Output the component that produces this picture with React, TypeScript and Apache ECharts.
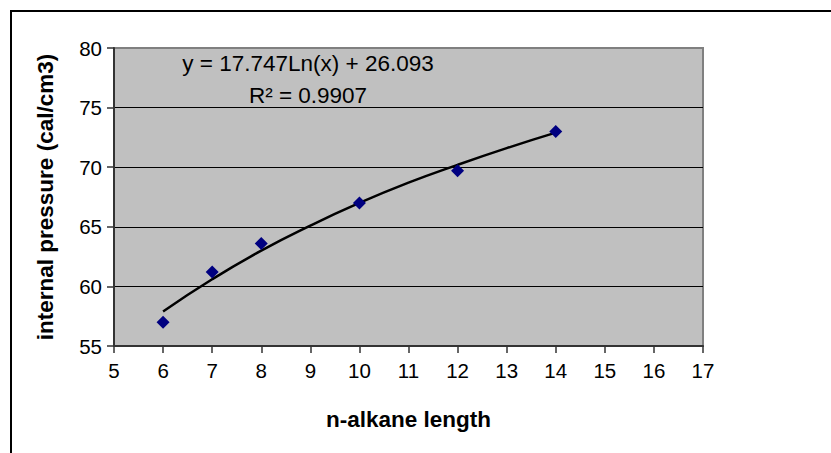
import React, { useEffect, useRef } from "react";
import * as echarts from "echarts";

const lengths = [6, 7, 8, 10, 12, 14];
const pressures = [57.0, 61.2, 63.6, 67.0, 69.7, 73.0];
const trendX = [6, 7, 8, 9, 10, 11, 12, 13, 14];
const trendY = [57.9, 60.6, 63.0, 65.1, 67.0, 68.7, 70.2, 71.6, 72.9];
const equationText = "y = 17.747Ln(x) + 26.093";
const r2Text = "R\u00b2 = 0.9907";
const xTitle = "n-alkane length";
const yTitle = "internal pressure (cal/cm3)";

const FONT = "'Liberation Sans', Arial, sans-serif";

export default function App() {
  const ref = useRef<HTMLDivElement>(null);
  useEffect(() => {
    if (!ref.current) return;
    const chart = echarts.init(ref.current, null, { renderer: "svg" });
    chart.setOption({
      animation: false,
      backgroundColor: "#ffffff",
      textStyle: { fontFamily: FONT },
      grid: {
        left: 114,
        top: 48,
        right: 128,
        bottom: 107,
        show: true,
        backgroundColor: "#c0c0c0",
        borderColor: "#808080",
        borderWidth: 2,
      },
      xAxis: {
        type: "value",
        min: 5,
        max: 17,
        interval: 1,
        name: xTitle,
        nameLocation: "middle",
        nameGap: 62,
        nameTextStyle: { fontFamily: FONT, fontSize: 22.5, fontWeight: "bold", color: "#000" },
        axisLine: { show: true, onZero: false, lineStyle: { color: "#333", width: 2 } },
        axisTick: { show: true, inside: false, length: 7, lineStyle: { color: "#333", width: 1.5 } },
        axisLabel: { fontFamily: FONT, fontSize: 20.5, color: "#000", margin: 14 },
        splitLine: { show: false },
      },
      yAxis: {
        type: "value",
        min: 55,
        max: 80,
        interval: 5,
        name: yTitle,
        nameLocation: "middle",
        nameGap: 57,
        nameTextStyle: { fontFamily: FONT, fontSize: 22.5, fontWeight: "bold", color: "#000" },
        axisLine: { show: true, onZero: false, lineStyle: { color: "#333", width: 2 } },
        axisTick: { show: true, inside: false, length: 7, lineStyle: { color: "#333", width: 1.5 } },
        axisLabel: { fontFamily: FONT, fontSize: 20.5, color: "#000", margin: 12 },
        splitLine: {
          show: true,
          lineStyle: { color: ["#000", "#000", "#000", "#000", "#000", "#808080"], width: 1 },
        },
      },
      series: [
        {
          type: "line",
          data: trendX.map((x, i) => [x, trendY[i]]),
          smooth: true,
          showSymbol: false,
          symbol: "none",
          lineStyle: { color: "#000", width: 2.5 },
          z: 2,
        },
        {
          type: "scatter",
          data: lengths.map((x, i) => [x, pressures[i]]),
          symbol: "diamond",
          symbolSize: 13,
          itemStyle: { color: "#000080", opacity: 1 },
          z: 3,
        },
      ],
      graphic: [
        {
          type: "rect",
          shape: { x: 11, y: 11, width: 840, height: 460 },
          style: { fill: "none", stroke: "#000", lineWidth: 2 },
          z: 10,
        },
        {
          type: "text",
          x: 308,
          y: 63,
          style: {
            text: equationText,
            font: `22.5px ${FONT}`,
            fill: "#000",
            textAlign: "center",
            textVerticalAlign: "middle",
          },
          z: 10,
        },
        {
          type: "text",
          x: 308,
          y: 95,
          style: {
            text: r2Text,
            font: `22.5px ${FONT}`,
            fill: "#000",
            textAlign: "center",
            textVerticalAlign: "middle",
          },
          z: 10,
        },
      ],
    });
    return () => chart.dispose();
  }, []);
  return (
    <div
      ref={ref}
      style={{ position: "fixed", left: 0, top: 0, width: 831, height: 453, background: "#fff" }}
    />
  );
}
